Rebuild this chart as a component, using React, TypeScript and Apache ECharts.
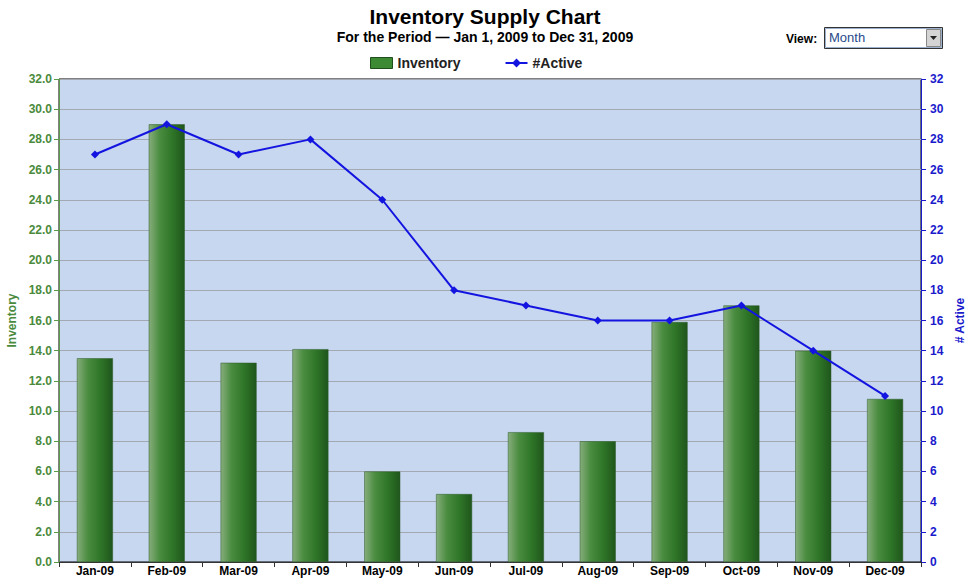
import React, { useEffect, useRef } from "react";
import * as echarts from "echarts";

const categories = ["Jan-09", "Feb-09", "Mar-09", "Apr-09", "May-09", "Jun-09", "Jul-09", "Aug-09", "Sep-09", "Oct-09", "Nov-09", "Dec-09"];
const inventory = [13.5, 29.0, 13.2, 14.1, 6.0, 4.5, 8.6, 8.0, 15.9, 17.0, 14.0, 10.8];
const active = [27, 29, 27, 28, 24, 18, 17, 16, 16, 17, 14, 11];

const FONT = "Arial, 'Liberation Sans', Helvetica, sans-serif";

export default function App() {
  const ref = useRef<HTMLDivElement>(null);
  useEffect(() => {
    if (!ref.current) return;
    const chart = echarts.init(ref.current, undefined, { renderer: "svg" });
    const barGrad = new echarts.graphic.LinearGradient(0, 0, 1, 0, [
      { offset: 0, color: "#86ad7b" },
      { offset: 0.3, color: "#4a8c40" },
      { offset: 0.65, color: "#2f7628" },
      { offset: 1, color: "#1f561c" },
    ]);
    chart.setOption({
      animation: false,
      backgroundColor: "#ffffff",
      textStyle: { fontFamily: FONT },
      title: {
        text: "Inventory Supply Chart",
        subtext: "For the Period \u2014 Jan 1, 2009 to Dec 31, 2009",
        left: 480,
        textAlign: "center",
        top: 1,
        itemGap: 3,
        textStyle: { fontFamily: FONT, fontSize: 21, fontWeight: "bold", color: "#000" },
        subtextStyle: { fontFamily: FONT, fontSize: 14, fontWeight: "bold", color: "#000" },
      },
      legend: {
        top: 51,
        left: 365,
        itemGap: 44,
        itemWidth: 22,
        itemHeight: 11,
        textStyle: { fontFamily: FONT, fontSize: 14, fontWeight: "bold", color: "#222" },
        data: [
          { name: "Inventory", icon: "rect", itemStyle: { color: "#3c8a34", borderColor: "#1f4f1c", borderWidth: 1 } },
          { name: "#Active" },
        ],
      },
      grid: {
        left: 59,
        right: 48,
        top: 79,
        bottom: 16,
        outerBoundsMode: "none",
        containLabel: false,
        show: true,
        backgroundColor: "#c6d7ef",
        borderColor: "#000",
        borderWidth: 1,
      },
      xAxis: {
        type: "category",
        data: categories,
        axisLine: { lineStyle: { color: "#333", width: 1 } },
        axisTick: { show: true, alignWithLabel: false, length: 5, lineStyle: { color: "#333" } },
        axisLabel: { fontFamily: FONT, fontSize: 12, fontWeight: "bold", color: "#000", margin: 3 },
      },
      yAxis: [
        {
          type: "value",
          min: 0,
          max: 32,
          interval: 2,
          name: "Inventory",
          nameLocation: "middle",
          nameRotate: 90,
          nameGap: 37,
          nameTextStyle: { fontFamily: FONT, fontSize: 12, fontWeight: "bold", color: "#4a8a3c" },
          axisLine: { show: true, lineStyle: { color: "#5c9a4c", width: 1 } },
          axisTick: { show: true, length: 5, lineStyle: { color: "#5c9a4c" } },
          axisLabel: { fontFamily: FONT, fontSize: 12, fontWeight: "bold", color: "#4a8a3c", margin: 7, formatter: (v: number) => v.toFixed(1) },
          splitLine: { show: true, lineStyle: { color: "#a3a9b3", width: 1 } },
        },
        {
          type: "value",
          min: 0,
          max: 32,
          interval: 2,
          position: "right",
          name: "# Active",
          nameLocation: "middle",
          nameRotate: 90,
          nameGap: 31,
          nameTextStyle: { fontFamily: FONT, fontSize: 12, fontWeight: "bold", color: "#1a1acc" },
          axisLine: { show: true, lineStyle: { color: "#1a1acc", width: 1 } },
          axisTick: { show: true, length: 5, lineStyle: { color: "#1a1acc" } },
          axisLabel: { fontFamily: FONT, fontSize: 12, fontWeight: "bold", color: "#1a1acc", margin: 9 },
          splitLine: { show: false },
        },
      ],
      series: [
        {
          name: "Inventory",
          type: "bar",
          data: inventory,
          barWidth: 36,
          yAxisIndex: 0,
          itemStyle: { color: barGrad, borderColor: "#2c5a28", borderWidth: 0.5 },
        },
        {
          name: "#Active",
          type: "line",
          data: active,
          yAxisIndex: 1,
          symbol: "diamond",
          symbolSize: 8,
          lineStyle: { color: "#1414e0", width: 2 },
          itemStyle: { color: "#1414e0" },
        },
      ],
      graphic: [
        { type: "text", left: 786, top: 33, style: { text: "View:", font: `bold 12px ${FONT}`, fill: "#000" } },
        { type: "rect", shape: { x: 824.5, y: 27.5, width: 118, height: 21 }, style: { fill: "#fff", stroke: "#333", lineWidth: 1 } },
        { type: "rect", shape: { x: 825.5, y: 28.5, width: 116, height: 19 }, style: { fill: "#fff", stroke: "#9ab0cc", lineWidth: 1 } },
        { type: "text", left: 829, top: 31, style: { text: "Month", font: `13px ${FONT}`, fill: "#2a4a8a" } },
        { type: "rect", shape: { x: 926.5, y: 29.5, width: 14, height: 17 }, style: { fill: "#d4d4d4", stroke: "#888", lineWidth: 1 } },
        { type: "polygon", shape: { points: [[930, 36], [937, 36], [933.5, 40]] }, style: { fill: "#222" } },
      ],
    });
    return () => chart.dispose();
  }, []);
  return <div ref={ref} style={{ position: "fixed", left: 0, top: 0, width: 969, height: 578 }} />;
}
